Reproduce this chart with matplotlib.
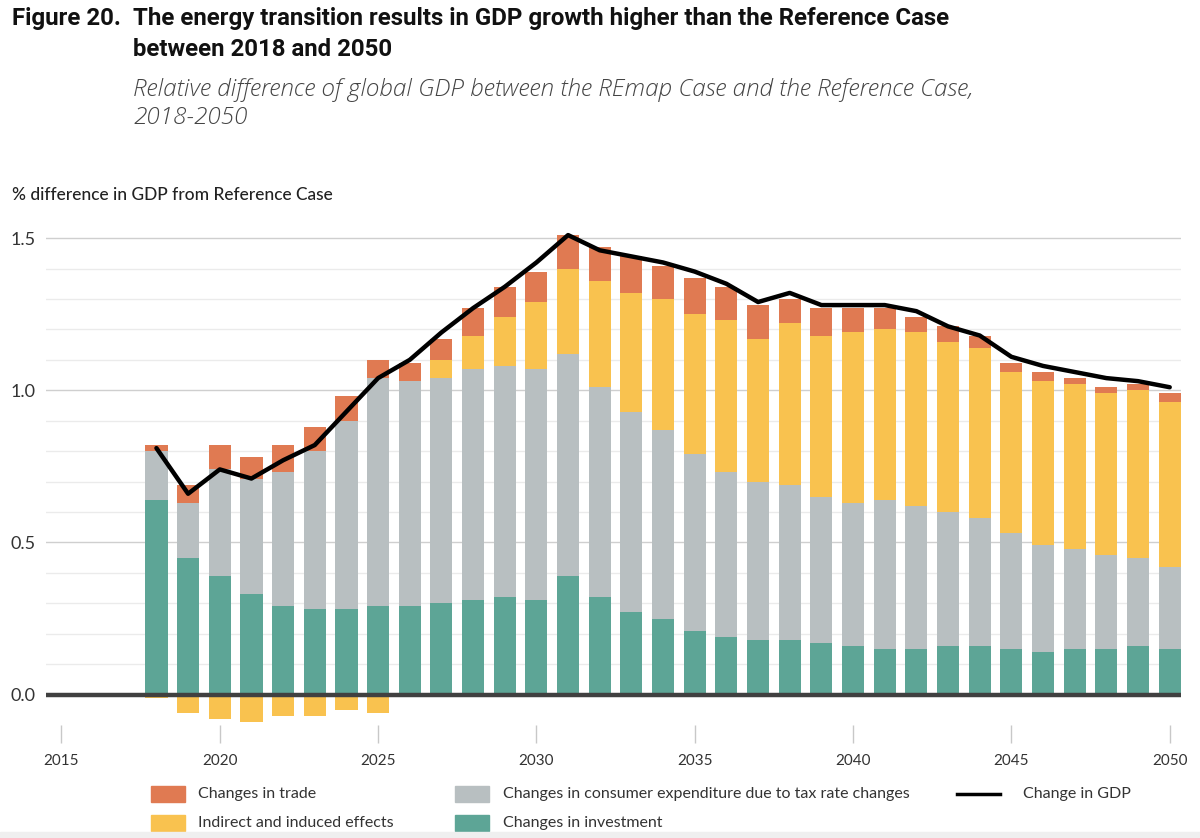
import matplotlib
matplotlib.use("Agg")
import matplotlib.pyplot as plt
from matplotlib.patches import Rectangle
from matplotlib.lines import Line2D
import numpy as np

years = list(range(2018, 2051))
investment = [0.64, 0.45, 0.39, 0.33, 0.29, 0.28, 0.28, 0.29, 0.29, 0.30, 0.31, 0.32, 0.31, 0.39, 0.32, 0.27, 0.25,
              0.21, 0.19, 0.18, 0.18, 0.17, 0.16, 0.15, 0.15, 0.16, 0.16, 0.15, 0.14, 0.15, 0.15, 0.16, 0.15]
consumer = [0.16, 0.18, 0.35, 0.38, 0.44, 0.52, 0.62, 0.75, 0.74, 0.74, 0.76, 0.76, 0.76, 0.73, 0.69, 0.66, 0.62,
            0.58, 0.54, 0.52, 0.51, 0.48, 0.47, 0.49, 0.47, 0.44, 0.42, 0.38, 0.35, 0.33, 0.31, 0.29, 0.27]
indirect = [-0.01, -0.06, -0.08, -0.09, -0.07, -0.07, -0.05, -0.06, 0.0, 0.06, 0.11, 0.16, 0.22, 0.28, 0.35, 0.39, 0.43,
            0.46, 0.50, 0.47, 0.53, 0.53, 0.56, 0.56, 0.57, 0.56, 0.56, 0.53, 0.54, 0.54, 0.53, 0.55, 0.54]
trade = [0.02, 0.06, 0.08, 0.07, 0.09, 0.08, 0.08, 0.06, 0.06, 0.07, 0.09, 0.10, 0.10, 0.11, 0.11, 0.12, 0.11,
         0.12, 0.11, 0.11, 0.08, 0.09, 0.08, 0.07, 0.05, 0.05, 0.04, 0.03, 0.03, 0.02, 0.02, 0.02, 0.03]
gdp = [0.81, 0.66, 0.74, 0.71, 0.77, 0.82, 0.93, 1.04, 1.10, 1.19, 1.27, 1.34, 1.42, 1.51, 1.46, 1.44, 1.42,
       1.39, 1.35, 1.29, 1.32, 1.28, 1.28, 1.28, 1.26, 1.21, 1.18, 1.11, 1.08, 1.06, 1.04, 1.03, 1.01]

xticks = [2015, 2020, 2025, 2030, 2035, 2040, 2045, 2050]
yticks = [0.0, 0.5, 1.0, 1.5]
ytick_labels = ["0.0", "0.5", "1.0", "1.5"]

legend_labels = ["Changes in trade", "Indirect and induced effects",
                 "Changes in consumer expenditure due to tax rate changes", "Changes in investment",
                 "Change in GDP"]

C_TRADE = "#E07A52"
C_IND = "#F9C24F"
C_CONS = "#B8BFC1"
C_INV = "#5DA596"

plt.rcParams['font.family'] = ['Lato', 'DejaVu Sans']

fig = plt.figure(figsize=(12, 8.38), dpi=100)
ax = fig.add_axes([0.038, 0.1348, 0.946, 0.5992])

x = np.array(years, dtype=float)
inv = np.array(investment)
con = np.array(consumer)
ind = np.array(indirect)
trd = np.array(trade)
w = 0.7

ind_pos = np.where(ind > 0, ind, 0)
ind_neg = np.where(ind < 0, ind, 0)

ax.bar(x, inv, width=w, color=C_INV, zorder=3)
ax.bar(x, con, width=w, bottom=inv, color=C_CONS, zorder=3)
ax.bar(x, ind_pos, width=w, bottom=inv + con, color=C_IND, zorder=3)
ax.bar(x, ind_neg, width=w, color=C_IND, zorder=3)
ax.bar(x, trd, width=w, bottom=inv + con + ind_pos, color=C_TRADE, zorder=3)
ax.plot(x, gdp, color="black", lw=3.2, solid_joinstyle="round", solid_capstyle="round", zorder=5)

ax.set_xlim(2014.5, 2050.35)
ax.set_ylim(-0.1, 1.55)

for v in np.arange(0.1, 1.55, 0.1):
    major = abs(v * 2 - round(v * 2)) < 1e-6
    ax.axhline(v, color="#cfcfcf" if major else "#ebebeb", lw=1.0, zorder=1)
ax.axhline(0, color="#404040", lw=3.2, zorder=4)

for s in ax.spines.values():
    s.set_visible(False)

ax.set_xticks(xticks)
ax.set_xticklabels([str(t) for t in xticks])
ax.set_yticks(yticks)
ax.set_yticklabels(ytick_labels, ha="left")
ax.tick_params(axis="x", length=13, width=1.0, color="#c8c8c8", pad=8, labelsize=11, labelcolor="#333333")
ax.tick_params(axis="y", length=0, pad=25, labelsize=13, labelcolor="#333333")

# Titles
fig.text(0.010, 0.978, "Figure 20.", fontsize=17.3, fontweight="bold", family="Roboto", color="#111111", va="center")
fig.text(0.111, 0.978, "The energy transition results in GDP growth higher than the Reference Case",
         fontsize=17.3, fontweight="bold", family="Roboto", color="#111111", va="center")
fig.text(0.111, 0.941, "between 2018 and 2050", fontsize=17.3, fontweight="bold", family="Roboto",
         color="#111111", va="center")
fig.text(0.111, 0.893, "Relative difference of global GDP between the REmap Case and the Reference Case,",
         fontsize=17.5, style="italic", fontweight="light", family=["Open Sans", "Lato"], color="#444444",
         va="center")
fig.text(0.111, 0.859, "2018-2050", fontsize=17.5, style="italic", fontweight="light", family=["Open Sans", "Lato"],
         color="#444444", va="center")
fig.text(0.010, 0.767, "% difference in GDP from Reference Case", fontsize=12.5, fontweight="medium",
         color="#222222", va="center")

# Legend
def patch(xpx, ypx, color):
    fig.patches.append(Rectangle((xpx / 1200, (838 - ypx - 8) / 838), 34 / 1200, 16 / 838,
                                 transform=fig.transFigure, color=color, figure=fig))

row1, row2 = 794, 823
patch(151, row1, C_TRADE)
patch(151, row2, C_IND)
patch(455, row1, C_CONS)
patch(455, row2, C_INV)
fig.lines.append(Line2D([957 / 1200, 1000 / 1200], [(838 - row1) / 838] * 2, transform=fig.transFigure,
                        color="black", lw=2.5, figure=fig))
for (xp, yp), lab in zip([(198, row1), (198, row2), (503, row1), (503, row2), (1023, row1)], legend_labels):
    fig.text(xp / 1200, (838 - yp) / 838, lab, fontsize=11.5, color="#333333", va="center")

fig.patches.append(Rectangle((0, 0), 1, 6 / 838, transform=fig.transFigure, color="#efefef", figure=fig))

fig.savefig("out.png", dpi=100)
